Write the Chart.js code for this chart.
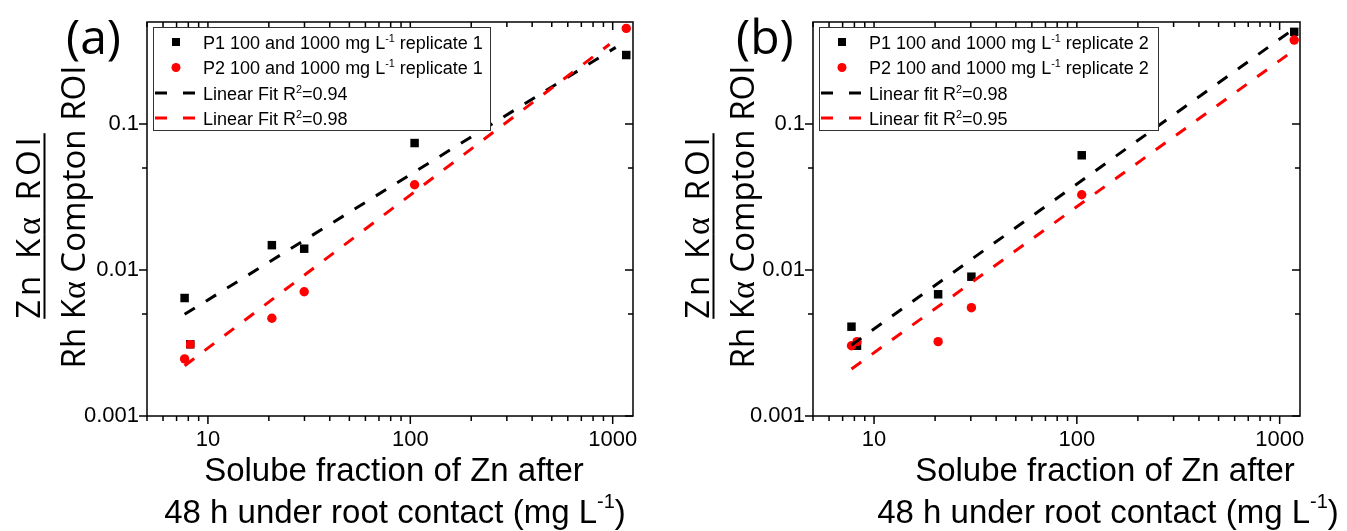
<!DOCTYPE html>
<html>
<head>
<meta charset="utf-8">
<script src="https://cdn.jsdelivr.net/npm/chart.js@4.4.1/dist/chart.umd.min.js"></script>
<style>
  body { margin: 0; width: 1347px; height: 531px; background: #fff; position: relative; overflow: hidden; }
  canvas { position: absolute; top: 0; }
  .letter { position: absolute; font: 48px "Open Sans", sans-serif; line-height: 1; color: #000; white-space: nowrap; }
  .ylab { position: absolute; font: 33px "Open Sans", sans-serif; line-height: 1; color: #000; white-space: nowrap;
          transform: translate(-50%, -50%) rotate(-90deg); }
  .ylab .al { font-family: "Liberation Serif", "DejaVu Serif", serif; font-size: 34px; }
  .ylab.num { text-decoration: underline; text-decoration-thickness: 2px; text-underline-offset: 4px; letter-spacing: 4px; }
  .xtitle { position: absolute; font: 33px "Liberation Sans", Arial, sans-serif; line-height: 1; color: #000; white-space: nowrap;
            transform: translateX(-50%); }
  .xtitle sup { font-size: 20px; vertical-align: 0; position: relative; top: -15px; }
</style>
</head>
<body>
<canvas id="chartA" width="660" height="531" style="left:0"></canvas>
<canvas id="chartB" width="681" height="531" style="left:666px"></canvas>

<div class="letter" style="left:66px; top:12px">(a)</div>
<div class="letter" style="left:736px; top:12px">(b)</div>

<div class="ylab num" style="left:28px; top:226px">Zn K<span class="al">α</span> ROI</div>
<div class="ylab" style="left:73px; top:217px">Rh K<span class="al">α</span> Compton ROI</div>
<div class="ylab num" style="left:697px; top:226px">Zn K<span class="al">α</span> ROI</div>
<div class="ylab" style="left:742px; top:217px">Rh K<span class="al">α</span> Compton ROI</div>

<div class="xtitle" style="left:394px; top:453px">Solube fraction of Zn after</div>
<div class="xtitle" style="left:395px; top:495px">48 h under root contact (mg L<sup>-1</sup>)</div>
<div class="xtitle" style="left:1105px; top:453px">Solube fraction of Zn after</div>
<div class="xtitle" style="left:1108px; top:495px">48 h under root contact (mg L<sup>-1</sup>)</div>

<script>
// ---- data ----
// panel (a), replicate 1
const p1xA = [7.67, 8.18, 20.7, 29.9, 105, 1167];
const p1yA = [0.00643, 0.0031, 0.0148, 0.0140, 0.0741, 0.297];
const p2xA = [7.67, 8.18, 20.7, 29.9, 105, 1167];
const p2yA = [0.00246, 0.0031, 0.00467, 0.0071, 0.0384, 0.452];
const fit1xA = [7.67, 1035];
const fit1yA = [0.00497, 0.335];
const fit2xA = [7.67, 966];
const fit2yA = [0.00221, 0.352];

// panel (b), replicate 2
const p1xB = [7.74, 8.24, 20.7, 30.2, 105.7, 1180];
const p1yB = [0.00409, 0.00303, 0.00682, 0.0090, 0.0611, 0.428];
const p2xB = [7.74, 8.24, 20.7, 30.2, 105.7, 1180];
const p2yB = [0.00303, 0.00323, 0.00323, 0.00552, 0.0328, 0.376];
const fit1xB = [7.74, 1180];
const fit1yB = [0.00306, 0.45];
const fit2xB = [7.74, 1180];
const fit2yB = [0.0021, 0.321];

// legend labels, ^{..} = superscript
const legendA = ['P1 100 and 1000 mg L^{-1} replicate 1', 'P2 100 and 1000 mg L^{-1} replicate 1',
                 'Linear Fit R^{2}=0.94', 'Linear Fit R^{2}=0.98'];
const legendB = ['P1 100 and 1000 mg L^{-1} replicate 2', 'P2 100 and 1000 mg L^{-1} replicate 2',
                 'Linear fit R^{2}=0.98', 'Linear fit R^{2}=0.95'];

// axes
const xMin = 5, xMax = 1260;
const yMin = 0.001, yMax = 0.5;
const xTickLabels = [10, 100, 1000];
const xMinorTicks = [5, 6, 7, 8, 9, 20, 30, 40, 50, 60, 70, 80, 90, 200, 300, 400, 500, 600, 700, 800, 900];
const yTickLabels = ['0.001', '0.01', '0.1'];
const yMinorTicks = [0.005, 0.05];

const RED = '#ff0000';
const BLACK = '#000000';
const tickFont = { family: '"Liberation Sans", Arial, sans-serif', size: 22 };

function pts(xs, ys) {
    return xs.map((x, i) => ({ x: x, y: ys[i] }));
}

function drawRich(ctx, str, x, y, size) {
    // y is baseline
    const parts = str.split(/(\^\{[^}]*\})/);
    let cx = x;
    parts.forEach(p => {
        if (!p) return;
        let sup = false;
        if (p.startsWith('^{')) { sup = true; p = p.slice(2, -1); }
        const s = sup ? size * 0.6 : size;
        ctx.font = s + 'px "Liberation Sans", Arial, sans-serif';
        ctx.fillText(p, cx, sup ? y - size * 0.38 : y);
        cx += ctx.measureText(p).width;
    });
}

// frame + Origin style ticks
const frameTicks = {
    id: 'frameTicks',
    afterDraw(chart) {
        const ctx = chart.ctx;
        const a = chart.chartArea;
        const xs = chart.scales.x, ys = chart.scales.y;
        ctx.save();
        ctx.strokeStyle = '#000';
        ctx.lineWidth = 1.5;
        ctx.strokeRect(a.left, a.top, a.right - a.left, a.bottom - a.top);
        ctx.beginPath();
        const xt = xTickLabels.map(v => [v, 8]).concat(xMinorTicks.map(v => [v, 5]));
        xt.forEach(([v, len]) => {
            const px = xs.getPixelForValue(v);
            ctx.moveTo(px, a.bottom); ctx.lineTo(px, a.bottom + len);
            ctx.moveTo(px, a.top); ctx.lineTo(px, a.top + len);
        });
        const yt = yTickLabels.map(v => [parseFloat(v), 8]).concat(yMinorTicks.map(v => [v, 5]));
        yt.forEach(([v, len]) => {
            const py = ys.getPixelForValue(v);
            ctx.moveTo(a.left, py); ctx.lineTo(a.left - len, py);
            ctx.moveTo(a.right, py); ctx.lineTo(a.right - len, py);
        });
        ctx.stroke();
        ctx.restore();
    }
};

// boxed legend in the upper left of the plot
const boxLegend = {
    id: 'boxLegend',
    afterDraw(chart, args, opts) {
        const ctx = chart.ctx;
        const a = chart.chartArea;
        const left = a.left + 6, top = a.top + 5, w = opts.width, h = 103;
        const rows = [15, 40.5, 66, 91];
        ctx.save();
        ctx.fillStyle = '#fff';
        ctx.fillRect(left, top, w, h);
        ctx.strokeStyle = '#333';
        ctx.lineWidth = 1;
        ctx.strokeRect(left + 0.5, top + 0.5, w, h);
        opts.labels.forEach((lab, i) => {
            const cy = top + rows[i];
            const col = (i % 2 === 0) ? BLACK : RED;
            if (i === 0) {
                ctx.fillStyle = col;
                ctx.fillRect(left + 23 - 4, cy - 4, 8, 8);
            } else if (i === 1) {
                ctx.fillStyle = col;
                ctx.beginPath(); ctx.arc(left + 23, cy, 4.5, 0, Math.PI * 2); ctx.fill();
            } else {
                ctx.strokeStyle = i === 2 ? BLACK : RED;
                ctx.lineWidth = 3;
                ctx.setLineDash([12, 16]);
                ctx.beginPath(); ctx.moveTo(left + 2, cy); ctx.lineTo(left + 42, cy); ctx.stroke();
                ctx.setLineDash([]);
            }
            ctx.fillStyle = '#000';
            ctx.textBaseline = 'alphabetic';
            drawRich(ctx, lab, left + 50, cy + 6.5, 18);
        });
        ctx.restore();
    }
};

function makePanel(id, padRight, d) {
    const ctx = document.getElementById(id).getContext('2d');
    return new Chart(ctx, {
        type: 'scatter',
        data: {
            datasets: [
                { label: 'P1', data: pts(d.p1x, d.p1y), pointStyle: 'rect', pointRadius: 6, pointHoverRadius: 6,
                  backgroundColor: BLACK, borderColor: BLACK, borderWidth: 0, showLine: false, order: 3 },
                { label: 'P2', data: pts(d.p2x, d.p2y), pointStyle: d.p2style, pointRadius: d.p2radius, pointHoverRadius: 5,
                  backgroundColor: RED, borderColor: RED, borderWidth: 0, showLine: false, order: 2 },
                { label: 'fit1', data: pts(d.f1x, d.f1y), showLine: true, borderColor: BLACK, borderWidth: 3,
                  borderDash: [12, 13], pointRadius: 0, fill: false, order: 1 },
                { label: 'fit2', data: pts(d.f2x, d.f2y), showLine: true, borderColor: RED, borderWidth: 3,
                  borderDash: [12, 13], pointRadius: 0, fill: false, order: 0 }
            ]
        },
        options: {
            responsive: false,
            animation: false,
            layout: { padding: { top: 22, right: padRight, left: 0, bottom: 0 } },
            plugins: {
                legend: { display: false },
                tooltip: { enabled: false },
                boxLegend: { labels: d.legend, width: d.legendWidth }
            },
            scales: {
                x: {
                    type: 'logarithmic', min: xMin, max: xMax,
                    afterFit: s => { s.height = 115; },
                    afterBuildTicks: s => { s.ticks = xTickLabels.map(v => ({ value: v })); },
                    ticks: { callback: v => String(v), font: tickFont, color: '#000', padding: 11,
                             maxRotation: 0, autoSkip: false },
                    grid: { display: false, drawTicks: false, tickLength: 0 },
                    border: { display: false }
                },
                y: {
                    type: 'logarithmic', min: yMin, max: yMax,
                    afterFit: s => { s.width = 147; },
                    afterBuildTicks: s => { s.ticks = yTickLabels.map(v => ({ value: parseFloat(v) })); },
                    ticks: { callback: (v, i) => yTickLabels[i], font: tickFont, color: '#000', padding: 8,
                             autoSkip: false },
                    grid: { display: false, drawTicks: false, tickLength: 0 },
                    border: { display: false }
                }
            }
        },
        plugins: [frameTicks, boxLegend]
    });
}

makePanel('chartA', 27, {
    p1x: p1xA, p1y: p1yA, p2x: p2xA, p2y: p2yA,
    f1x: fit1xA, f1y: fit1yA, f2x: fit2xA, f2y: fit2yA,
    p2style: ['circle', 'rectRounded', 'circle', 'circle', 'circle', 'circle'],
    p2radius: [4.7, 5, 4.7, 4.7, 4.7, 4.7],
    legend: legendA, legendWidth: 337
});
makePanel('chartB', 47, {
    p1x: p1xB, p1y: p1yB, p2x: p2xB, p2y: p2yB,
    f1x: fit1xB, f1y: fit1yB, f2x: fit2xB, f2y: fit2yB,
    p2style: 'circle', p2radius: 4.7,
    legend: legendB, legendWidth: 339
});
</script>
</body>
</html>
